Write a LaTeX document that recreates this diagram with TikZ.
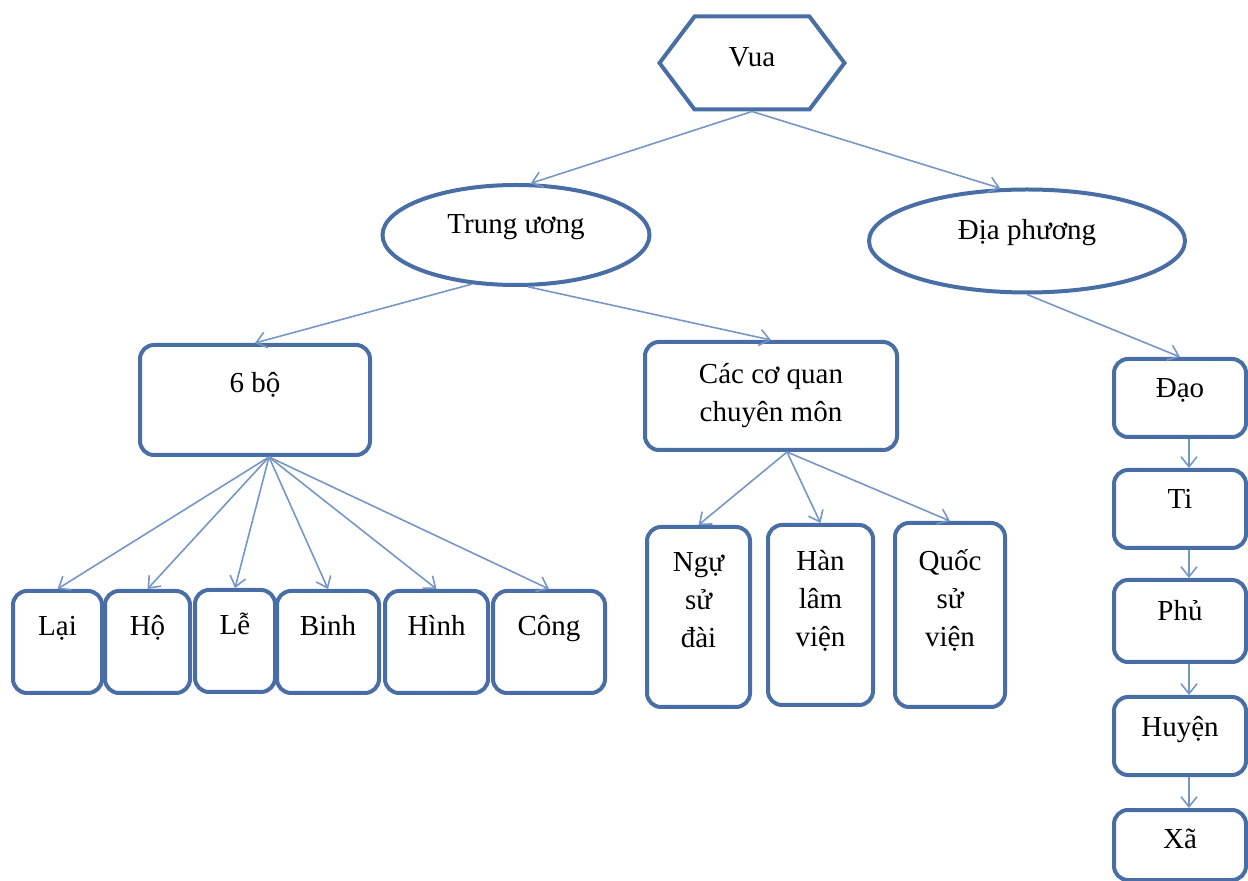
\documentclass[tikz,border=0pt]{standalone}
\usepackage{fontspec}
\setmainfont{Liberation Serif}
\usepackage{xcolor}
\usepackage{tikz}
\usetikzlibrary{positioning,arrows.meta,shapes.geometric,shapes.symbols}

\definecolor{boxblue}{RGB}{72,110,165}
\definecolor{linkblue}{RGB}{118,150,200}

\begin{document}
\begin{tikzpicture}[x=0.5pt, y=-0.5pt, font=\fontsize{14.5}{19}\selectfont,
    unit/.style={draw=boxblue, line width=2pt, rounded corners=7pt, fill=white, align=center, inner sep=2pt},
    lift/.style={text height=10pt, text depth=#1},
    link/.style={draw=linkblue, line width=0.8pt, -{Straight Barb[length=5pt, width=8pt]}}]
\useasboundingbox (0,0) rectangle (1248,881);

\node[signal, signal to=east and west, signal pointer angle=106, draw=boxblue, line width=2pt, fill=white, minimum width=92.5pt, minimum height=46.5pt, lift=6pt] (vua) at (752,63) {Vua};

\node[ellipse, draw=boxblue, line width=2pt, fill=white, minimum width=133.5pt, minimum height=50pt, lift=11pt] (trung) at (516,235) {Trung ương};
\node[ellipse, draw=boxblue, line width=2pt, fill=white, minimum width=158pt, minimum height=51.5pt, lift=11.5pt] (dia) at (1027,241) {Địa phương};

\node[unit, minimum width=115pt, minimum height=55pt, lift=17pt] (sixbo) at (255,400) {6 bộ};
\node[unit, minimum width=126pt, minimum height=54pt] (coquan) at (771,396) {Các cơ quan\\chuyên môn};

\node[unit, minimum width=44.5pt, minimum height=51pt, lift=16pt] (lai) at (57.5,642) {Lại};
\node[unit, minimum width=42.5pt, minimum height=51pt, lift=16pt] (ho) at (147.5,642) {Hộ};
\node[unit, minimum width=40pt, minimum height=51pt, lift=16pt] (le) at (235,641) {Lễ};
\node[unit, minimum width=51pt, minimum height=51pt, lift=16pt] (binh) at (328,642) {Binh};
\node[unit, minimum width=51.5pt, minimum height=51pt, lift=16pt] (hinh) at (436.5,642) {Hình};
\node[unit, minimum width=56pt, minimum height=51pt, lift=16pt] (cong) at (549,642) {Công};

\node[unit, minimum width=51.5pt, minimum height=90pt, text depth=17pt] (ngu) at (698.5,617) {Ngự\\sử\\đài};
\node[unit, minimum width=52.5pt, minimum height=90pt, text depth=17pt] (han) at (820.5,615) {Hàn\\lâm\\viện};
\node[unit, minimum width=55pt, minimum height=92pt, text depth=17pt] (quoc) at (950,615) {Quốc\\sử\\viện};

\node[unit, minimum width=66pt, minimum height=39pt, lift=10pt] (dao) at (1180,398) {Đạo};
\node[unit, minimum width=66pt, minimum height=39pt, lift=10pt] (ti) at (1180,509) {Ti};
\node[unit, minimum width=66pt, minimum height=41pt, lift=10pt] (phu) at (1180,621) {Phủ};
\node[unit, minimum width=66pt, minimum height=39pt, lift=10pt] (huyen) at (1180,736) {Huyện};
\node[unit, minimum width=66pt, minimum height=35pt, lift=7pt] (xa) at (1180,845) {Xã};

\draw[link] (vua.south) -- (trung.74);
\draw[link] (vua.south) -- (dia.117);
\draw[link] (trung.228) -- (sixbo.north);
\draw[link] (trung.283) -- (coquan.north);
\draw[link] (dia.south) -- (dao.north);

\draw[link] ([xshift=7pt]sixbo.south) -- (lai.north);
\draw[link] ([xshift=7pt]sixbo.south) -- (ho.north);
\draw[link] ([xshift=7pt]sixbo.south) -- (le.north);
\draw[link] ([xshift=7pt]sixbo.south) -- (binh.north);
\draw[link] ([xshift=7pt]sixbo.south) -- (hinh.north);
\draw[link] ([xshift=7pt]sixbo.south) -- (cong.north);

\draw[link] ([xshift=8pt]coquan.south) -- (ngu.north);
\draw[link] ([xshift=8pt]coquan.south) -- (han.north);
\draw[link] ([xshift=8pt]coquan.south) -- (quoc.north);

\draw[link] ([xshift=4.5pt]dao.south) -- ([xshift=4.5pt]ti.north);
\draw[link] ([xshift=4.5pt]ti.south) -- ([xshift=4.5pt]phu.north);
\draw[link] ([xshift=4.5pt]phu.south) -- ([xshift=4.5pt]huyen.north);
\draw[link] ([xshift=4.5pt]huyen.south) -- ([xshift=4.5pt]xa.north);

\end{tikzpicture}
\end{document}
